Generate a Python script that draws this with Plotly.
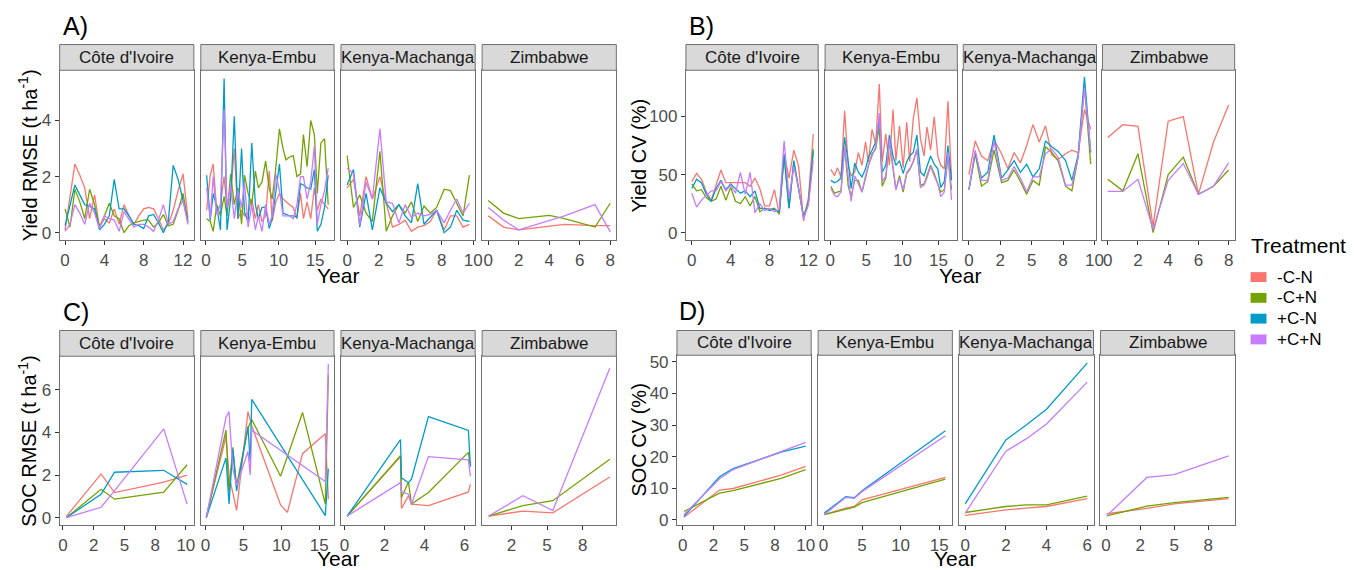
import plotly.graph_objects as go

W, H = 1354, 570
FONT = "Liberation Sans, Arial, sans-serif"

treatments = ["-C-N", "-C+N", "+C-N", "+C+N"]
colors = ["#F8766D", "#72A300", "#009CC8", "#C77CFF"]
sites = ["Côte d'Ivoire", "Kenya-Embu", "Kenya-Machanga", "Zimbabwe"]

# ---------------- A) Yield RMSE (t ha-1) ----------------
a_ci_x = [0, 0.5, 1, 1.5, 2, 2.5, 3, 3.5, 4, 4.5, 5, 5.5, 6, 6.5, 7, 7.5, 8, 8.5, 9, 9.5, 10, 10.5, 11, 11.5, 12, 12.5]
a_ci_nn = [0.1, 1.2, 2.45, 2.05, 1.6, 0.5, 1.35, 0.2, 0.5, 0.35, 0.85, 0.3, 1.0, 0.6, 0.3, 0.6, 0.85, 0.9, 0.85, 0.5, 0.1, 0.3, 0.8, 1.5, 2.1, 0.5]
a_ci_nN = [0.85, 0.2, 1.55, 1.1, 0.5, 1.55, 1.0, 0.2, 0.6, 1.05, 0.6, 0.5, 0.0, 0.25, 0.35, 0.4, 0.45, 0.45, 0.2, 0.35, 0.65, 0.25, 0.3, 0.8, 1.4, 0.35]
a_ci_Cn = [0.25, 1.0, 1.7, 1.35, 1.0, 0.95, 0.85, 0.1, 0.3, 0.6, 1.9, 0.85, 0.85, 0.6, 0.3, 0.25, 0.15, 0.6, 0.65, 0.35, 0.0, 0.4, 2.4, 1.9, 1.1, 0.4]
a_ci_CN = [0.05, 0.3, 1.0, 0.7, 0.3, 1.05, 0.7, 0.15, 0.6, 0.5, 0.45, 0.05, 0.75, 0.45, 0.2, 0.3, 0.3, 0.2, 0.05, 0.45, 1.0, 0.3, 0.4, 0.85, 1.15, 0.3]

a_em_x = [0.1, 0.6, 1.0, 1.5, 2.0, 2.5, 2.9, 3.4, 3.9, 4.4, 4.9, 5.3, 5.8, 6.3, 6.8, 7.2, 7.7, 8.2, 8.7, 9.1, 9.6, 10.1, 10.6, 11.0, 11.5, 12.0, 12.5, 13.0, 13.4, 13.9, 14.4, 14.9, 15.3, 15.8, 16.3, 16.8]
a_em_nn = [0.8, 2.05, 2.45, 0.75, 1.0, 2.0, 0.9, 1.3, 3.0, 0.5, 0.8, 0.6, 0.7, 1.2, 0.5, 1.0, 0.4, 0.6, 2.2, 0.4, 1.1, 1.4, 1.2, 1.1, 1.0, 0.9, 0.5, 1.4, 0.5, 1.1, 0.5, 1.6, 0.8, 1.2, 1.0, 0.85]
a_em_nN = [0.5, 0.4, 0.05, 1.0, 0.6, 1.3, 0.6, 2.1, 1.0, 1.6, 0.3, 2.05, 1.4, 1.0, 2.2, 1.6, 1.8, 2.55, 1.6, 1.2, 2.3, 3.7, 3.0, 2.6, 2.7, 2.75, 2.0, 2.1, 3.5, 2.35, 4.0, 3.5, 1.4, 3.2, 3.35, 1.0]
a_em_Cn = [2.05, 0.45, 1.4, 0.9, 0.1, 5.5, 0.1, 1.2, 4.15, 0.5, 3.0, 0.75, 0.35, 3.2, 1.0, 0.5, 0.9, 0.9, 0.15, 0.5, 1.45, 2.45, 0.7, 0.65, 0.6, 0.6, 0.55, 1.75, 1.7, 1.6, 1.55, 2.25, 0.05, 0.3, 0.9, 2.05]
a_em_CN = [1.6, 0.5, 2.0, 0.65, 1.0, 4.4, 0.9, 1.7, 0.5, 1.5, 0.9, 1.8, 0.2, 1.0, 0.1, 0.6, 0.05, 1.0, 0.3, 0.6, 2.1, 1.5, 0.6, 0.6, 0.6, 0.5, 1.0, 2.0, 2.0, 1.2, 1.8, 3.1, 0.3, 1.0, 1.5, 2.3]

a_ma_x = [0, 0.5, 1.0, 1.5, 2.0, 2.6, 3.1, 3.6, 4.1, 4.6, 5.1, 5.6, 6.1, 6.6, 7.1, 7.7, 8.2, 8.7, 9.2, 9.7]
a_ma_nn = [1.6, 1.9, 0.6, 2.0, 1.2, 2.0, 1.05, 0.2, 0.3, 0.45, 0.05, 0.2, 0.25, 0.4, 0.8, 0.1, 0.6, 0.6, 0.2, 0.3]
a_ma_nN = [2.75, 0.9, 1.35, 0.7, 0.4, 2.9, 0.05, 0.6, 1.0, 0.7, 1.1, 0.4, 0.95, 0.7, 0.9, 1.55, 1.5, 1.05, 0.6, 2.05]
a_ma_Cn = [1.7, 2.25, 0.2, 1.4, 0.1, 1.6, 1.05, 0.75, 1.0, 0.6, 0.35, 1.75, 0.3, 0.55, 0.8, 0.0, 0.2, 0.8, 0.45, 0.4]
a_ma_CN = [2.3, 2.1, 0.25, 1.8, 1.2, 3.7, 1.1, 1.05, 0.35, 1.0, 0.55, 0.7, 0.6, 0.65, 0.8, 0.35, 0.8, 1.2, 0.7, 1.05]

a_zw_x = [0, 1, 2, 4, 5, 7, 8]
a_zw_nn = [0.6, 0.2, 0.1, 0.25, 0.3, 0.25, 0.25]
a_zw_nN = [1.15, 0.7, 0.5, 0.62, 0.5, 0.2, 1.05]
a_zw_CN = [0.9, 0.45, 0.1, 0.45, 0.6, 1.0, 0.03]

# ---------------- B) Yield CV (%) ----------------
b_ci_x = a_ci_x
b_ci_nn = [44, 51, 46, 35, 28, 42, 54, 43, 43, 43, 43, 43, 40, 47, 38, 23, 23, 37, 16, 68, 47, 71, 57, 10, 30, 85]
b_ci_nN = [42, 36, 37, 30, 27, 29, 40, 28, 39, 27, 25, 31, 23, 31, 18, 21, 20, 21, 16, 66, 21, 61, 37, 14, 27, 72]
b_ci_Cn = [38, 46, 43, 33, 27, 38, 45, 37, 42, 38, 34, 36, 31, 36, 21, 21, 19, 20, 18, 67, 21, 62, 37, 13, 25, 70]
b_ci_CN = [34, 22, 28, 32, 36, 36, 44, 36, 41, 34, 52, 33, 52, 17, 25, 19, 21, 18, 20, 79, 30, 57, 38, 12, 24, 62]

b_em_x = a_em_x
b_em_nn = [54.5, 49, 56, 48, 105, 58, 49, 52, 69, 58, 78, 61, 89, 76, 128, 61, 85, 58, 106, 62, 92, 56, 95, 61, 98, 116, 81, 66, 91, 71, 100, 66, 58, 55, 113, 47]
b_em_nN = [40, 34, 35, 36, 74, 40, 31, 45, 45, 35, 47, 58, 68, 72, 91, 40, 47, 79, 55, 37, 49, 35, 51, 54, 61, 71, 41, 42, 49, 58, 51, 42, 35, 37, 65, 37]
b_em_Cn = [45, 43, 44, 47, 82, 61, 38, 60, 52, 48, 55, 65, 71, 78, 98, 52, 58, 84, 66, 58, 62, 51, 61, 66, 69, 84, 52, 49, 57, 66, 59, 55, 39, 44, 75, 45]
b_em_CN = [38, 32, 31, 35, 74, 45, 27, 49, 42, 35, 49, 58, 66, 74, 103, 44, 49, 81, 57, 37, 47, 37, 52, 55, 61, 72, 39, 41, 47, 57, 49, 42, 31, 35, 69, 28]

b_ma_x = a_ma_x
b_ma_nn = [50, 79, 66, 62, 80, 68, 55, 69, 60, 75, 93, 78, 92, 67, 63, 68, 71, 69, 106, 89]
b_ma_nN = [37, 68, 40, 44, 71, 43, 45, 54, 44, 33, 45, 41, 74, 69, 62, 40, 36, 65, 126, 59]
b_ma_Cn = [37, 69, 47, 52, 84, 47, 54, 62, 52, 59, 48, 55, 79, 74, 70, 62, 45, 67, 134, 69]
b_ma_CN = [37, 71, 45, 45, 79, 45, 47, 57, 47, 35, 48, 48, 68, 72, 65, 41, 41, 65, 125, 70]

b_zw_x = [0, 1, 2, 3, 4, 5, 6, 7, 8]
b_zw_nn = [82, 93, 91.5, 5.7, 96, 100, 33, 78, 110]
b_zw_nN = [46, 36, 68, 0, 50, 65, 33, 40, 54]
b_zw_CN = [35.5, 35.5, 46, 3, 45, 59.5, 33, 40, 60]

# ---------------- C) SOC RMSE (t ha-1) ----------------
c_ci_x = [0.27, 3.1, 4.2, 8.2, 10.1]
c_ci_nn = [0.06, 2.05, 1.18, 1.67, 2.0]
c_ci_nN = [0.0, 1.33, 0.87, 1.2, 2.48]
c_ci_Cn = [0.0, 1.1, 2.13, 2.22, 1.56]
c_ci_CN = [0.0, 0.49, 1.27, 4.16, 0.64]

c_em_x = [0.1, 2.7, 3.1, 3.6, 4.1, 5.6, 5.9, 6.1, 9.9, 10.8, 12.8, 15.8, 16.2]
c_em_nn = [0.06, 3.8, 2.0, None, 0.34, 4.97, None, 4.3, 0.6, 0.25, 3.0, 3.93, 0.87]
c_em_nN = [0.0, 4.1, 1.2, 3.3, 1.5, 4.2, None, 4.6, 1.94, None, 4.93, 0.64, 6.7]
c_em_Cn = [0.0, 2.8, 0.64, 3.2, 1.25, 4.27, 2.6, 5.54, None, None, None, 0.1, 2.3]
c_em_CN = [0.0, 4.7, 4.97, 2.3, 1.5, 3.1, 2.0, 4.1, None, None, None, 1.7, 7.2]

c_ma_x = [0.13, 2.8, 2.85, 3.2, 3.35, 4.2, 6.2, 6.3]
c_ma_nn = [0.08, 2.86, 0.44, 1.03, 0.64, 0.57, 1.21, 1.56]
c_ma_nN = [0.08, 2.9, 0.95, 1.67, 0.64, 1.18, 3.06, 2.4]
c_ma_Cn = [0.08, 3.66, 1.87, 1.64, 1.8, 4.73, 4.09, 2.4]
c_ma_CN = [0.08, 1.64, 1.21, 1.1, 0.64, 2.86, 2.71, 1.94]

c_zw_x = [0.9, 3.3, 5.4, 9.4]
c_zw_nn = [0.08, 0.31, 0.23, 1.91]
c_zw_nN = [0.08, 0.57, 0.8, 2.74]
c_zw_CN = [0.08, 1.03, 0.34, 7.0]

# ---------------- D) SOC CV (%) ----------------
d_ci_x = [0.1, 3.0, 4.1, 8.0, 10.0]
d_ci_nn = [0.8, 9.4, 9.9, 14.1, 16.9]
d_ci_nN = [2.6, 8.4, 9.2, 13.1, 15.9]
d_ci_Cn = [1.0, 13.6, 16.2, 21.4, 23.3]
d_ci_CN = [1.6, 13.0, 15.9, 21.7, 24.5]

d_em_x = [0.1, 2.9, 4.0, 5.0, 15.8]
d_em_nn = [1.6, 3.7, 4.2, 6.3, 13.4]
d_em_nN = [1.6, 3.3, 4.0, 5.4, 12.9]
d_em_Cn = [2.1, 7.3, 7.0, 9.2, 28.2]
d_em_CN = [1.6, 7.1, 6.8, 8.9, 26.6]

d_ma_x = [0, 2, 3, 4, 6]
d_ma_nn = [1.4, 3.1, 3.7, 4.2, 6.7]
d_ma_nN = [2.3, 4.2, 4.7, 4.7, 7.5]
d_ma_Cn = [5.0, 25.3, 30.0, 35.0, 49.6]
d_ma_CN = [2.1, 21.7, 25.6, 30.3, 43.6]

d_zw_x = [0.05, 3.0, 5.0, 9.0]
d_zw_nn = [1.9, 3.6, 5.0, 6.7]
d_zw_nN = [1.25, 4.3, 5.4, 7.1]
d_zw_CN = [1.25, 13.4, 14.3, 20.2]

# ---------------- tick labels ----------------
xt_0_4_8_12 = ([0, 4, 8, 12], ["0", "4", "8", "12"])
xt_0_5_10_15 = ([0, 5, 10, 15], ["0", "5", "10", "15"])
xt_quarter10 = ([0, 2.5, 5, 7.5, 10], ["0", "2", "5", "8", "10"])
xt_0_2_4_6_8 = ([0, 2, 4, 6, 8], ["0", "2", "4", "6", "8"])
xt_0_2_4_6 = ([0, 2, 4, 6], ["0", "2", "4", "6"])
xt_zw_c = ([2.5, 5, 7.5], ["2", "5", "8"])
xt_zw_d = ([0, 2.5, 5, 7.5], ["0", "2", "5", "8"])

yt_a = ([0, 2, 4], ["0", "2", "4"])
yt_b = ([0, 50, 100], ["0", "50", "100"])
yt_c = ([0, 2, 4, 6], ["0", "2", "4", "6"])
yt_d = ([0, 10, 20, 30, 40, 50], ["0", "10", "20", "30", "40", "50"])

# ---------------- layout geometry (pixels) ----------------
panels = [
    dict(label="A)", lab_xy=(60, 24), ytitle="Yield RMSE (t ha<sup>-1</sup>)", ytitle_x=27,
         xtitle_xy=(339, 276),
         fx=[(59, 194), (201, 335), (342, 477), (484, 619)], strip=(43, 69), plot=(69, 241),
         yrange=[-0.276, 5.79], yticks=yt_a,
         xranges=[[-0.55, 13.1], [-0.7, 17.6], [-0.49, 10.16], [-0.4, 8.4]],
         xticks=[xt_0_4_8_12, xt_0_5_10_15, xt_quarter10, xt_0_2_4_6_8],
         data=[(a_ci_x, [a_ci_nn, a_ci_nN, a_ci_Cn, a_ci_CN]),
               (a_em_x, [a_em_nn, a_em_nN, a_em_Cn, a_em_CN]),
               (a_ma_x, [a_ma_nn, a_ma_nN, a_ma_Cn, a_ma_CN]),
               (a_zw_x, [a_zw_nn, a_zw_nN, None, a_zw_CN])]),
    dict(label="B)", lab_xy=(690, 24), ytitle="Yield CV (%)", ytitle_x=642,
         xtitle_xy=(965, 276),
         fx=[(689, 822), (829, 962), (968, 1102), (1108, 1241)], strip=(43, 69), plot=(69, 241),
         yrange=[-6.7, 139.8], yticks=yt_b,
         xranges=[[-0.6, 13.0], [-0.7, 17.6], [-0.45, 10.16], [-0.35, 8.4]],
         xticks=[xt_0_4_8_12, xt_0_5_10_15, xt_quarter10, xt_0_2_4_6_8],
         data=[(b_ci_x, [b_ci_nn, b_ci_nN, b_ci_Cn, b_ci_CN]),
               (b_em_x, [b_em_nn, b_em_nN, b_em_Cn, b_em_CN]),
               (b_ma_x, [b_ma_nn, b_ma_nN, b_ma_Cn, b_ma_CN]),
               (b_zw_x, [b_zw_nn, b_zw_nN, None, b_zw_CN])]),
    dict(label="C)", lab_xy=(60, 313), ytitle="SOC RMSE (t ha<sup>-1</sup>)", ytitle_x=27,
         xtitle_xy=(339, 562),
         fx=[(59, 194), (201, 335), (342, 477), (484, 619)], strip=(332, 358), plot=(358, 529),
         yrange=[-0.36, 7.56], yticks=yt_c,
         xranges=[[-0.27, 10.65], [-0.62, 16.95], [-0.18, 6.54], [0.44, 9.86]],
         xticks=[xt_quarter10, xt_0_5_10_15, xt_0_2_4_6, xt_zw_c],
         data=[(c_ci_x, [c_ci_nn, c_ci_nN, c_ci_Cn, c_ci_CN]),
               (c_em_x, [c_em_nn, c_em_nN, c_em_Cn, c_em_CN]),
               (c_ma_x, [c_ma_nn, c_ma_nN, c_ma_Cn, c_ma_CN]),
               (c_zw_x, [c_zw_nn, c_zw_nN, None, c_zw_CN])]),
    dict(label="D)", lab_xy=(680, 312), ytitle="SOC CV (%)", ytitle_x=642,
         xtitle_xy=(960, 562),
         fx=[(680, 815), (822, 957), (964, 1099), (1106, 1241)], strip=(332, 357), plot=(357, 529),
         yrange=[-1.8, 52.1], yticks=yt_d,
         xranges=[[-0.46, 10.45], [-0.68, 16.7], [-0.29, 6.31], [-0.41, 9.44]],
         xticks=[xt_quarter10, xt_0_5_10_15, xt_0_2_4_6, xt_zw_d],
         data=[(d_ci_x, [d_ci_nn, d_ci_nN, d_ci_Cn, d_ci_CN]),
               (d_em_x, [d_em_nn, d_em_nN, d_em_Cn, d_em_CN]),
               (d_ma_x, [d_ma_nn, d_ma_nN, d_ma_Cn, d_ma_CN]),
               (d_zw_x, [d_zw_nn, d_zw_nN, None, d_zw_CN])]),
]


def px(x):
    return x / W


def py(y):
    return 1 - y / H


fig = go.Figure()
shapes = []
annotations = []
layout_axes = {}
BORDER = "#707070"
n = 0
for p in panels:
    for fi in range(4):
        n += 1
        sfx = "" if n == 1 else str(n)
        x0, x1 = p["fx"][fi]
        xs, series = p["data"][fi]
        for ti, ys in enumerate(series):
            if ys is None:
                continue
            fig.add_trace(go.Scatter(
                x=xs, y=ys, mode="lines", connectgaps=True,
                line=dict(color=colors[ti], width=1.3),
                name=treatments[ti], showlegend=False,
                xaxis="x" + sfx, yaxis="y" + sfx))
        tv, tt = p["xticks"][fi]
        layout_axes["xaxis" + sfx] = dict(
            domain=[px(x0), px(x1)], anchor="y" + sfx, range=p["xranges"][fi],
            tickmode="array", tickvals=tv, ticktext=tt,
            showgrid=False, zeroline=False, showline=True, mirror=True,
            linecolor=BORDER, linewidth=1, ticks="outside", ticklen=4,
            tickcolor="#333333", tickfont=dict(size=17, color="#4D4D4D", family=FONT))
        ytv, ytt = p["yticks"]
        first = fi == 0
        layout_axes["yaxis" + sfx] = dict(
            domain=[py(p["plot"][1]), py(p["plot"][0])], anchor="x" + sfx, range=p["yrange"],
            tickmode="array", tickvals=ytv, ticktext=ytt,
            showticklabels=first, ticks="outside" if first else "", ticklen=4,
            tickcolor="#333333",
            showgrid=False, zeroline=False, showline=True, mirror=True,
            linecolor=BORDER, linewidth=1,
            tickfont=dict(size=17, color="#4D4D4D", family=FONT))
        # strip
        s0, s1 = p["strip"]
        shapes.append(dict(type="rect", xref="paper", yref="paper",
                           x0=px(x0), x1=px(x1), y0=py(s1), y1=py(s0),
                           fillcolor="#D9D9D9", line=dict(color=BORDER, width=1)))
        annotations.append(dict(text=sites[fi], xref="paper", yref="paper",
                                x=px((x0 + x1) / 2), y=py((s0 + s1) / 2),
                                xanchor="center", yanchor="middle", showarrow=False,
                                font=dict(size=17, color="#1A1A1A", family=FONT)))
    # panel label
    lx, ly = p["lab_xy"]
    annotations.append(dict(text=p["label"], xref="paper", yref="paper", x=px(lx), y=py(ly),
                            xanchor="left", yanchor="middle", showarrow=False,
                            font=dict(size=25, color="black", family=FONT)))
    # x title
    tx, ty = p["xtitle_xy"]
    annotations.append(dict(text="Year", xref="paper", yref="paper", x=px(tx), y=py(ty),
                            xanchor="center", yanchor="middle", showarrow=False,
                            font=dict(size=21, color="black", family=FONT)))
    # y title
    pc = (p["plot"][0] + p["plot"][1]) / 2
    annotations.append(dict(text=p["ytitle"], xref="paper", yref="paper",
                            x=px(p["ytitle_x"]), y=py(pc), textangle=-90,
                            xanchor="center", yanchor="middle", showarrow=False,
                            font=dict(size=20, color="black", family=FONT)))

# legend (drawn manually)
annotations.append(dict(text="Treatment", xref="paper", yref="paper", x=px(1255), y=py(246),
                        xanchor="left", yanchor="middle", showarrow=False,
                        font=dict(size=21, color="black", family=FONT)))
leg_y = [278, 299, 320, 341]
for ti, t in enumerate(treatments):
    yc = leg_y[ti]
    shapes.append(dict(type="rect", xref="paper", yref="paper",
                       x0=px(1257), x1=px(1273), y0=py(yc + 5), y1=py(yc - 5),
                       fillcolor=colors[ti], line=dict(width=0)))
    annotations.append(dict(text=t, xref="paper", yref="paper", x=px(1282), y=py(yc),
                            xanchor="left", yanchor="middle", showarrow=False,
                            font=dict(size=17, color="black", family=FONT)))

fig.update_layout(
    width=W, height=H, margin=dict(l=0, r=0, t=0, b=0),
    paper_bgcolor="white", plot_bgcolor="white",
    showlegend=False, shapes=shapes, annotations=annotations,
    font=dict(family=FONT), **layout_axes)

fig.write_html("out.html")
